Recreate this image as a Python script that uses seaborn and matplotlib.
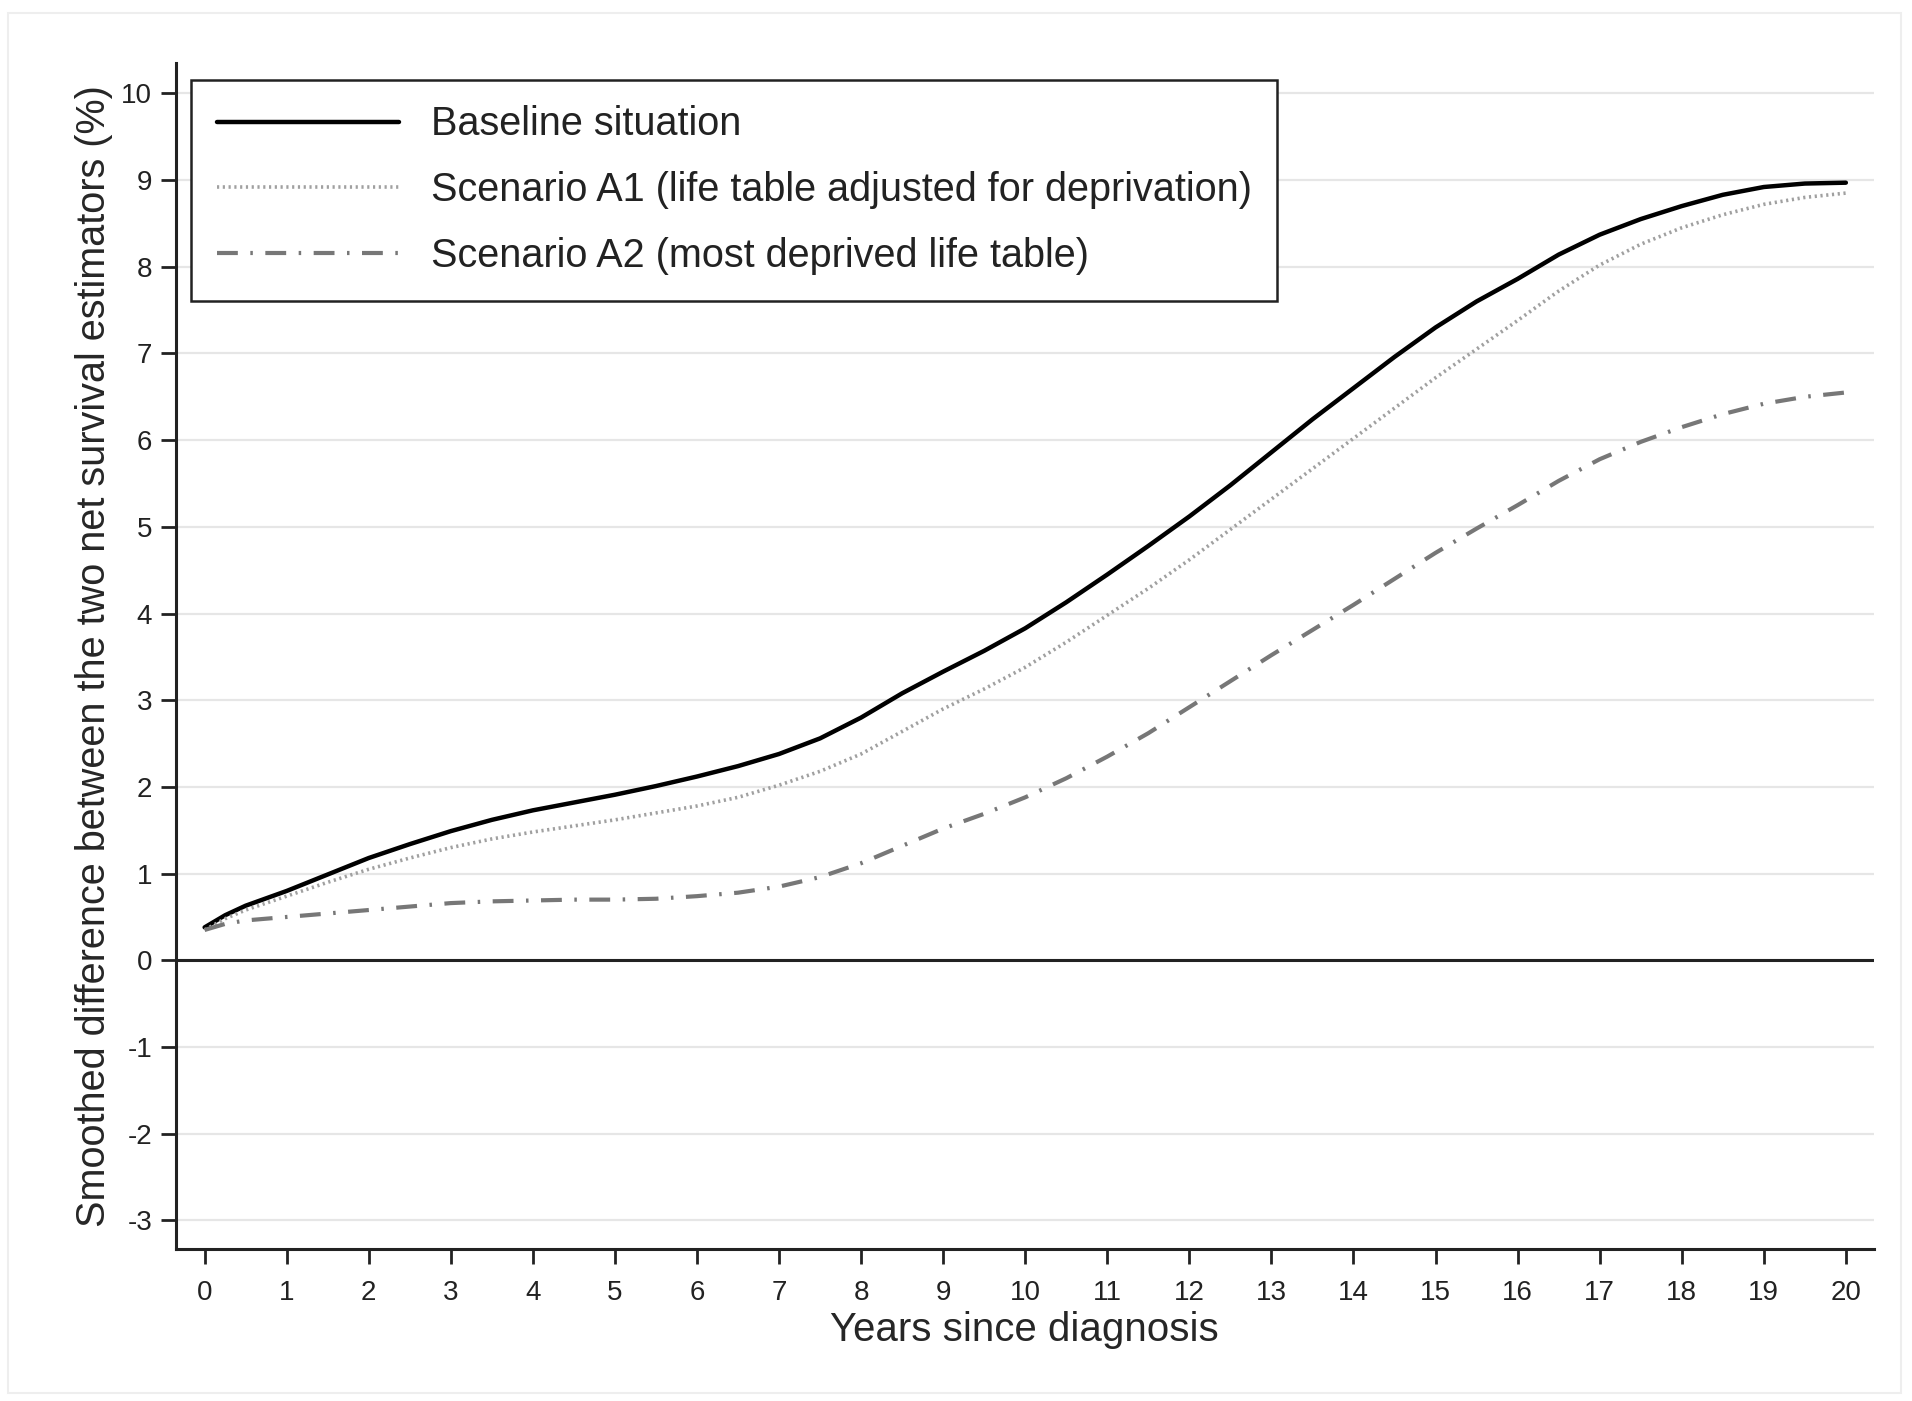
import numpy as np
import pandas as pd
import matplotlib
matplotlib.use("Agg")
import matplotlib.pyplot as plt
import seaborn as sns
from matplotlib.patches import Rectangle

# values
years = [0, 0.25, 0.5, 1, 1.5, 2, 2.5, 3, 3.5, 4, 4.5, 5, 5.5, 6, 6.5, 7, 7.5, 8, 8.5, 9,
         9.5, 10, 10.5, 11, 11.5, 12, 12.5, 13, 13.5, 14, 14.5, 15, 15.5, 16, 16.5, 17,
         17.5, 18, 18.5, 19, 19.5, 20]
baseline = [0.38, 0.52, 0.63, 0.80, 0.99, 1.18, 1.34, 1.49, 1.62, 1.73, 1.82, 1.91, 2.01,
            2.12, 2.24, 2.38, 2.56, 2.80, 3.08, 3.33, 3.57, 3.83, 4.13, 4.45, 4.78, 5.12,
            5.48, 5.86, 6.24, 6.60, 6.96, 7.30, 7.60, 7.86, 8.14, 8.37, 8.55, 8.70, 8.83,
            8.92, 8.96, 8.97]
scen_a1 = [0.35, 0.48, 0.58, 0.74, 0.90, 1.05, 1.18, 1.30, 1.40, 1.48, 1.55, 1.62, 1.70,
           1.78, 1.88, 2.02, 2.18, 2.38, 2.64, 2.90, 3.13, 3.38, 3.67, 3.98, 4.29, 4.62,
           4.97, 5.32, 5.67, 6.02, 6.37, 6.72, 7.05, 7.38, 7.72, 8.02, 8.26, 8.45, 8.60,
           8.72, 8.80, 8.85]
scen_a2 = [0.35, 0.42, 0.46, 0.50, 0.54, 0.58, 0.62, 0.66, 0.68, 0.69, 0.70, 0.70, 0.71,
           0.74, 0.78, 0.85, 0.96, 1.12, 1.32, 1.52, 1.69, 1.88, 2.10, 2.35, 2.62, 2.92,
           3.22, 3.52, 3.81, 4.10, 4.40, 4.70, 4.98, 5.25, 5.53, 5.78, 5.98, 6.15, 6.30,
           6.42, 6.50, 6.55]

labels = ["Baseline situation",
          "Scenario A1 (life table adjusted for deprivation)",
          "Scenario A2 (most deprived life table)"]
x_ticks = list(range(0, 21))
y_ticks = list(range(-3, 11))

sns.set_theme(style="white")
plt.rcParams["font.family"] = ["Liberation Sans", "DejaVu Sans"]
plt.rcParams["axes.unicode_minus"] = False

df = pd.DataFrame({"years": years * 3,
                   "diff": baseline + scen_a1 + scen_a2,
                   "series": [labels[0]] * len(years) + [labels[1]] * len(years)
                             + [labels[2]] * len(years)})

fig = plt.figure(figsize=(19.12, 14.01), dpi=100)
ax = fig.add_axes([0.092, 0.1085, 0.888, 0.8465])

for yv in y_ticks:
    ax.axhline(yv, color="#e6e6e6", lw=1.6, zorder=0)
ax.axhline(0, color="#222222", lw=2.2, zorder=1)

styles = {labels[0]: dict(color="black", lw=3.2, ls="-"),
          labels[1]: dict(color="#a0a0a0", lw=2.6, ls=(0, (0.6, 1.0))),
          labels[2]: dict(color="#777777", lw=3.0, ls=(0, (5, 3, 0.6, 3)))}
for lab in labels:
    sub = df[df["series"] == lab]
    sns.lineplot(data=sub, x="years", y="diff", ax=ax, label=lab, **styles[lab])

ax.set_xlim(-0.35, 20.34)
ax.set_ylim(-3.33, 10.35)
ax.set_xticks(x_ticks)
ax.set_yticks(y_ticks)
for s in ["top", "right"]:
    ax.spines[s].set_visible(False)
for s in ["left", "bottom"]:
    ax.spines[s].set_color("#222222")
    ax.spines[s].set_linewidth(2.2)
ax.tick_params(axis="both", direction="out", length=11, width=2, color="#222222",
               labelsize=20, left=True, bottom=True)
ax.tick_params(axis="x", pad=11)
ax.tick_params(axis="y", pad=6)
for t in ax.get_xticklabels() + ax.get_yticklabels():
    t.set_family(["Liberation Sans Narrow", "Liberation Sans"])
    t.set_color("#222222")

ax.set_xlabel("Years since diagnosis", fontsize=29, labelpad=4)
ax.set_ylabel("Smoothed difference between the two net survival estimators (%)",
              fontsize=28.5, labelpad=6)

leg = ax.legend(loc="upper left", bbox_to_anchor=(0.009, 0.986), borderaxespad=0,
                fontsize=28.5, handlelength=4.6, handletextpad=0.8, labelspacing=0.7,
                borderpad=0.65, fancybox=False, framealpha=1, edgecolor="#222222")
leg.get_frame().set_linewidth(1.8)
for t in leg.get_texts():
    t.set_color("#222222")

fig.add_artist(Rectangle((0.004, 0.006), 0.99, 0.985, transform=fig.transFigure,
                         fill=False, edgecolor="#eeeeee", lw=1.5))

fig.savefig("out.png", dpi=100, facecolor="white")
